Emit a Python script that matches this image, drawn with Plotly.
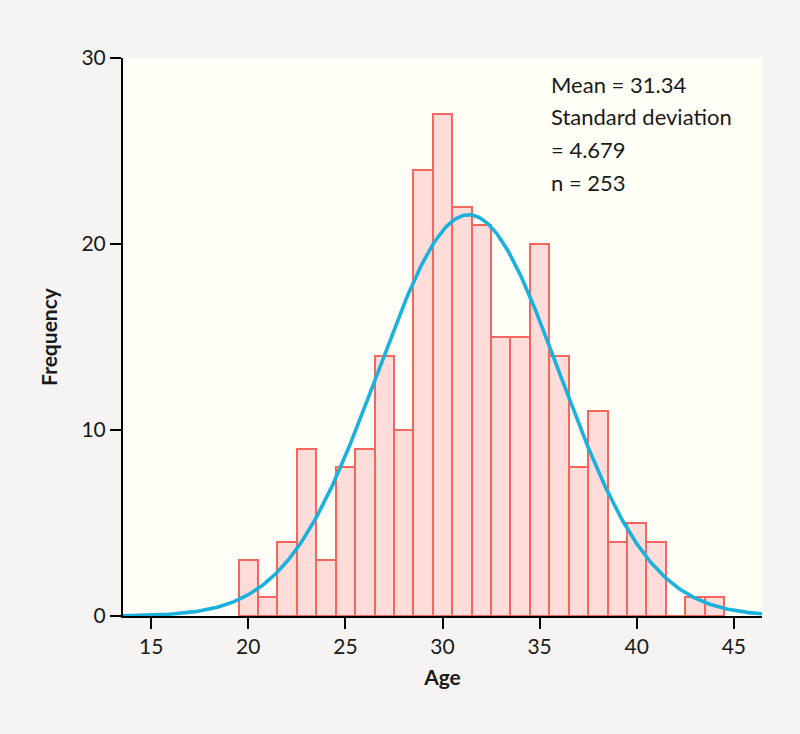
import numpy as np
import plotly.graph_objects as go

# Histogramm-Daten (Alter, Häufigkeit)
ages = [20, 21, 22, 23, 24, 25, 26, 27, 28, 29, 30, 31, 32,
        33, 34, 35, 36, 37, 38, 39, 40, 41, 42, 43, 44]
counts = [3, 1, 4, 9, 3, 8, 9, 14, 10, 24, 27, 22, 21,
          15, 15, 20, 14, 8, 11, 4, 5, 4, 0, 1, 1]

# Kennwerte der Verteilung
mean = 31.34
sd = 4.679
n = 253
stats_lines = ["Mean = 31.34", "Standard deviation", "= 4.679", "n = 253"]

x_ticks = [15, 20, 25, 30, 35, 40, 45]
y_ticks = [0, 10, 20, 30]

# Normalverteilungskurve aus Mittelwert, SD und n (Klassenbreite 1)
x_curve = np.linspace(13.55, 46.45, 400)
y_curve = n * np.exp(-0.5 * ((x_curve - mean) / sd) ** 2) / (sd * np.sqrt(2 * np.pi))

fig = go.Figure()

fig.add_trace(go.Bar(
    x=ages, y=counts, width=1,
    marker=dict(color="#fddcda", line=dict(color="#f4675c", width=2)),
    hoverinfo="x+y",
))

fig.add_trace(go.Scatter(
    x=x_curve, y=y_curve, mode="lines",
    line=dict(color="#1bb1dd", width=3.6),
    hoverinfo="skip",
))

font = "Lato, 'Noto Sans', sans-serif"

fig.update_layout(
    width=800, height=734,
    margin=dict(l=123, r=38, t=58, b=118),
    paper_bgcolor="#f5f4f2",
    plot_bgcolor="#fffef7",
    showlegend=False,
    bargap=0,
    font=dict(family=font, size=21, color="#1a1a1a"),
)

fig.update_xaxes(
    range=[13.55, 46.45], tickvals=x_ticks,
    showgrid=False, zeroline=False,
    showline=True, linecolor="black", linewidth=2,
    ticks="outside", ticklen=11, tickwidth=2, tickcolor="black",
    layer="below traces",
    title=dict(text="<b>Age</b>", standoff=13, font=dict(size=21)),
)
fig.update_yaxes(
    range=[0, 30], tickvals=y_ticks,
    showgrid=False, zeroline=False,
    showline=True, linecolor="black", linewidth=2,
    ticks="outside", ticklen=11, tickwidth=2, tickcolor="black",
    title=dict(text="<b>Frequency</b>", standoff=18, font=dict(size=21)),
)

# Kennwerte-Text oben rechts, Zeile für Zeile
for i, line in enumerate(stats_lines):
    fig.add_annotation(
        x=35.5, y=28.6 - i * 1.76, xref="x", yref="y",
        text=line, showarrow=False, xanchor="left", yanchor="middle",
        font=dict(family=font, size=22, color="#1a1a1a"),
    )

# Seitenrand entfernen, damit die Grafik bündig sitzt
fig.write_html("out.html", config={"displayModeBar": False},
               post_script="document.body.style.margin='0';")
